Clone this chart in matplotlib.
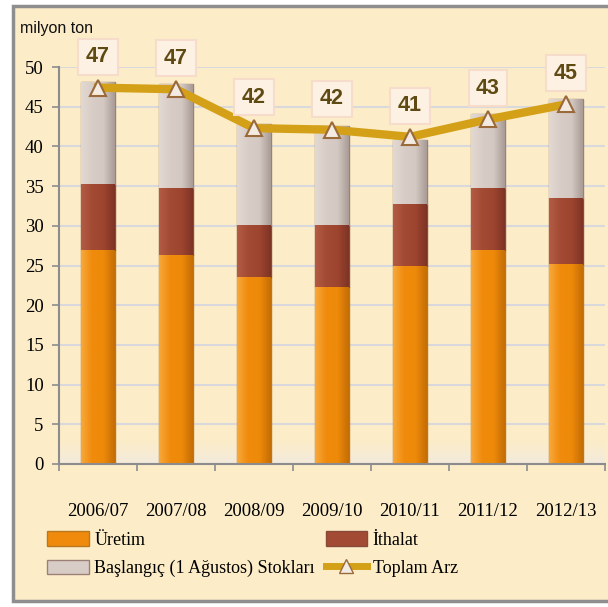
import numpy as np
import matplotlib
matplotlib.use("Agg")
import matplotlib.pyplot as plt
from matplotlib.patches import Rectangle
from matplotlib.lines import Line2D
from matplotlib.colors import LinearSegmentedColormap

seasons = ["2006/07", "2007/08", "2008/09", "2009/10", "2010/11", "2011/12", "2012/13"]
uretim = [27.0, 26.3, 23.5, 22.3, 24.9, 27.0, 25.2]
ithalat = [8.3, 8.4, 6.6, 7.8, 7.9, 7.7, 8.3]
stoklar = [12.8, 13.2, 12.7, 12.5, 8.0, 9.4, 12.5]
toplam_arz = [47.4, 47.2, 42.3, 42.1, 41.2, 43.4, 45.3]
arz_labels = ["47", "47", "42", "42", "41", "43", "45"]

bg = "#FCEDC8"
serif = ["Liberation Serif", "DejaVu Serif"]
sans = ["Liberation Sans", "DejaVu Sans"]

fig = plt.figure(figsize=(6.08, 6.07), dpi=100, facecolor="white")
# cream panel with grey frame
fig.patches.append(Rectangle((13 / 608, 6 / 607), 1.0, 595 / 607, transform=fig.transFigure,
                             facecolor=bg, edgecolor="#8E8E8E", linewidth=2.5, zorder=-5))

ax = fig.add_axes([59 / 608, 1 - 464 / 607, 546 / 608, 397 / 607])
ax.set_facecolor("none")
ax.set_zorder(1)

x = np.arange(len(seasons))
w = 0.43

# faint lighter band near the floor of the plot
floor = LinearSegmentedColormap.from_list("fl", [bg, "#F3EADC"])
ax.imshow(np.linspace(0, 1, 32).reshape(-1, 1), cmap=floor, aspect="auto", zorder=0.5,
          extent=[-0.5, len(seasons) - 0.5, 0, 3], interpolation="bilinear", origin="upper")


def shade(bars, cmap):
    # horizontal gradient painted inside each bar
    grad = np.linspace(0, 1, 64).reshape(1, -1)
    for b in bars:
        x0, y0 = b.get_x(), b.get_y()
        im = ax.imshow(grad, cmap=cmap, aspect="auto", zorder=2.5, interpolation="bilinear",
                       extent=[x0, x0 + b.get_width(), y0, y0 + b.get_height()])
        im.set_clip_path(b)


cm_ur = LinearSegmentedColormap.from_list("ur", ["#F7A83A", "#F08A0C", "#EE8A0A", "#C46E06"])
cm_it = LinearSegmentedColormap.from_list("it", ["#B35C44", "#A24A33", "#9E4530", "#7E3424"])
cm_st = LinearSegmentedColormap.from_list("st", ["#E3D9D3", "#D8CCC6", "#D4C8C2", "#A99C96"])

b1 = ax.bar(x, uretim, w, color="#F08A0C", edgecolor="#B9771F", linewidth=1, zorder=2, label="Üretim")
b2 = ax.bar(x, ithalat, w, bottom=uretim, color="#A24A33", edgecolor="#8A4A3A", linewidth=1,
            zorder=2, label="İthalat")
bot3 = np.array(uretim) + np.array(ithalat)
b3 = ax.bar(x, stoklar, w, bottom=bot3, color="#D8CCC6", edgecolor="#9C8078", linewidth=1,
            zorder=2, label="Başlangıç (1 Ağustos) Stokları")
shade(b1, cm_ur)
shade(b2, cm_it)
shade(b3, cm_st)

ax.plot(x, toplam_arz, color="#D4A017", linewidth=6, zorder=4, solid_joinstyle="round")
ax.plot(x, toplam_arz, linestyle="none", marker="^", markersize=11, markerfacecolor="#F3EBE2",
        markeredgecolor="#9A6A3A", markeredgewidth=1.5, zorder=5)

for xi, yi, lab in zip(x, toplam_arz, arz_labels):
    ax.annotate(lab, (xi, yi), xytext=(0, 31), textcoords="offset pixels",
                ha="center", va="center", fontsize=15.5, fontweight="bold", color="#5E4A12",
                family=sans,
                bbox=dict(boxstyle="square,pad=0.35", facecolor="#FCF1E2", edgecolor="#F7DCCB", linewidth=1.5),
                zorder=6, annotation_clip=False)

ax.set_xlim(-0.5, len(seasons) - 0.5)
ax.set_ylim(0, 50)
ax.set_yticks(range(0, 51, 5))
ax.yaxis.grid(True, color="#D9D8DC", linewidth=1.5, zorder=0)
ax.set_axisbelow(True)
ax.set_xticks(x)
ax.set_xticklabels(seasons)
ax.set_xticks(np.arange(-0.5, len(seasons)), minor=True)
ax.tick_params(axis="x", which="major", length=0, pad=28)
ax.tick_params(axis="x", which="minor", length=5, color="#8C8C8C", width=1.2)
ax.tick_params(axis="y", length=5, color="#8C8C8C", width=1.2, pad=6)
for lab in ax.get_xticklabels() + ax.get_yticklabels():
    lab.set_family(serif)
    lab.set_fontsize(13.5)
for s in ["top", "right"]:
    ax.spines[s].set_visible(False)
for s in ["left", "bottom"]:
    ax.spines[s].set_color("#8C8C8C")
    ax.spines[s].set_linewidth(1.5)

fig.text(20 / 608, 1 - 28 / 607, "milyon ton", fontsize=11.5, va="center", ha="left",
         family=sans, color="#111111")

handles = [b1, b3, b2,
           Line2D([], [], color="#D4A017", linewidth=5, marker="^", markersize=10,
                  markerfacecolor="#F3EBE2", markeredgecolor="#9A6A3A")]
labels = ["Üretim", "Başlangıç (1 Ağustos) Stokları", "İthalat", "Toplam Arz"]
fig.legend(handles, labels, loc="upper left", bbox_to_anchor=(40 / 608, 1 - 524 / 607), ncol=2,
           frameon=False, prop={"family": serif, "size": 13}, handlelength=2.3, handleheight=0.85,
           handletextpad=0.3, columnspacing=0.6, labelspacing=0.6, borderaxespad=0)

fig.savefig("out.png", dpi=100, facecolor="white")
